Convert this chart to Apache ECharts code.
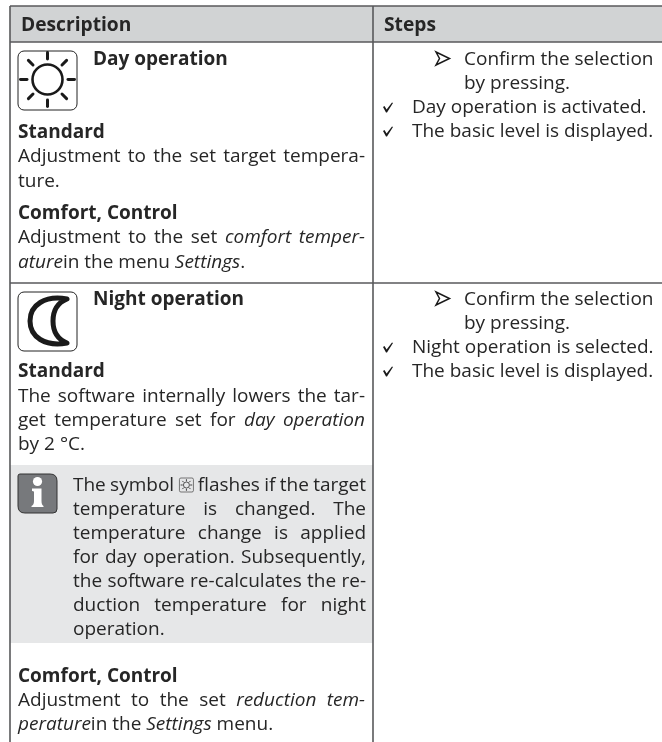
<!DOCTYPE html>
<html><head><meta charset="utf-8">
<style>html,body{margin:0;padding:0;background:#fff}#c{width:662px;height:742px}</style>
<script src="https://cdn.jsdelivr.net/npm/echarts@6/dist/echarts.min.js"></script>
</head><body><div id="c"></div>
<script>
// Table content ( _x_ marks italics, | marks a justified line, # the inline symbol )
var headers = ['Description', 'Steps'];
var dayTitle = 'Day operation';
var nightTitle = 'Night operation';
var subStandard = 'Standard';
var subComfort = 'Comfort, Control';
var dayStandard = ['|Adjustment to the set target tempera-', 'ture.'];
var dayComfort = ['|Adjustment to the set _comfort temper-_', '_ature_in the menu _Settings_.'];
var nightStandard = ['|The software internally lowers the tar-', '|get temperature set for _day operation_', 'by 2 °C.'];
var nightNote = ['|The symbol # flashes if the target', '|temperature is changed. The', '|temperature change is applied', '|for day operation. Subsequently,', '|the software re-calculates the re-', '|duction temperature for night', 'operation.'];
var nightComfort = ['|Adjustment to the set _reduction tem-_', '_perature_in the _Settings_ menu.'];
var confirmSteps = ['Confirm the selection', 'by pressing.'];
var dayChecks = ['Day operation is activated.', 'The basic level is displayed.'];
var nightChecks = ['Night operation is selected.', 'The basic level is displayed.'];

var FF = '"Open Sans"', SIZE = 19, INK = '#262626', LINE = '#58595b';
var chart = echarts.init(document.getElementById('c'));
var g = [];
var shapeId = 0;
function pathEl(d,style){
  var name='iconShape'+(shapeId++);
  echarts.graphic.registerShape(name,echarts.graphic.extendPath(d,{}));
  g.push({type:name,silent:true,style:style});
}
var mctx = document.createElement('canvas').getContext('2d');
function fontOf(st){return (st==='i'?'italic ':st==='b'?'bold ':'')+SIZE+'px '+FF;}
function w(t,st){mctx.font=fontOf(st);return mctx.measureText(t).width;}
function put(t,x,base,st,size){
  var s=size||SIZE;
  g.push({type:'text',silent:true,style:{text:t,x:x,y:base-0.30*s,fill:INK,verticalAlign:'middle',align:'left',
    font:(st==='i'?'italic ':st==='b'?'bold ':'')+s+'px '+FF}});
}
function rect(x,y,wd,h,fill){g.push({type:'rect',silent:true,shape:{x:x,y:y,width:wd,height:h},style:{fill:fill}});}
function hline(x1,x2,y,c,lw){g.push({type:'line',silent:true,shape:{x1:x1,y1:y,x2:x2,y2:y},style:{stroke:c,lineWidth:lw}});}
function vline(x,y1,y2,c,lw){g.push({type:'line',silent:true,shape:{x1:x,y1:y1,x2:x,y2:y2},style:{stroke:c,lineWidth:lw}});}

function segs(line){
  var out=[],parts=line.split('_');
  parts.forEach(function(p,i){if(p)out.push({t:p,st:i%2?'i':''});});
  return out;
}
function sunIcon(cx,cy,k,lw){
  g.push({type:'circle',silent:true,shape:{cx:cx,cy:cy,r:15*k},style:{fill:'none',stroke:'#1a1a1a',lineWidth:lw}});
  for(var a=0;a<8;a++){
    var an=a*Math.PI/4,c=Math.cos(an),s=Math.sin(an);
    g.push({type:'line',silent:true,shape:{x1:cx+c*20.5*k,y1:cy+s*20.5*k,x2:cx+c*27*k,y2:cy+s*27*k},
      style:{stroke:'#1a1a1a',lineWidth:lw*1.15,lineCap:'round'}});
  }
}
function box(x,y,wd,h,r,fill,stroke,lw){
  g.push({type:'rect',silent:true,shape:{x:x,y:y,width:wd,height:h,r:r},style:{fill:fill,stroke:stroke,lineWidth:lw}});
}
function drawLine(line,x,right,base){
  if(line[0]==='|'){
    var words=[];
    segs(line.slice(1)).forEach(function(sg){
      sg.t.trim().split(/\s+/).forEach(function(wd){words.push({t:wd,st:sg.st,w:wd==='#'?15:w(wd,sg.st)});});
    });
    var tot=words.reduce(function(a,b){return a+b.w;},0);
    var gap=(right-x-tot)/(words.length-1),cx=x;
    words.forEach(function(wd){
      if(wd.t==='#'){
        box(cx+1,base-13,14,14,1.5,'none','#444',0.7);
        sunIcon(cx+8,base-6,0.2,0.7);
      } else put(wd.t,cx,base,wd.st);
      cx+=wd.w+gap;
    });
  } else {
    var cx2=x;
    segs(line).forEach(function(sg){put(sg.t,cx2,base,sg.st);cx2+=w(sg.t,sg.st);});
  }
}
function block(lines,x,right,bases){lines.forEach(function(l,i){drawLine(l,x,right,bases[i]);});}

// table frame
rect(10,6,652,36,'#d1d3d4');
rect(10,465,363,178,'#e6e7e8');
hline(10,662,6,LINE,1.6);
hline(10,662,42,LINE,1.6);
hline(10,662,283,LINE,1.6);
vline(10,6,742,LINE,1.6);
vline(373,6,742,LINE,1.6);

// headers
put(headers[0],21,31,'b',19.2);
put(headers[1],384,31,'b',19.2);

// day row
box(18,51,59,59,6,'#fff','#222',1);
sunIcon(47.5,79.5,1,2.6);
put(dayTitle,93,65,'b');
put(subStandard,18,138,'b');
block(dayStandard,18,365,[162,187]);
put(subComfort,18,219,'b');
block(dayComfort,18,365,[243,268]);

// night row
box(18,292,59,59,6,'#fff','#222',1);
pathEl('M67 299 C45 295 30 305 30 321 C30 337 45 347 67 343 C57 339 53 331 53 321 C53 311 57 303 67 299 Z',
  {fill:'none',stroke:'#1a1a1a',lineWidth:5,lineJoin:'round'});
put(nightTitle,93,305,'b');
put(subStandard,18,377,'b');
block(nightStandard,18,365,[402,426,450]);
// note
pathEl('M20 474 L50 474 Q57 474 57 481 L57 509 Q57 513 53 513 L25 513 Q18 513 18 506 L18 476 Q18 474 20 474 Z',
  {fill:'#77797c',stroke:'#333',lineWidth:1});
g.push({type:'circle',silent:true,shape:{cx:37.5,cy:481.5,r:4.6},style:{fill:'#fff'}});
pathEl('M32 488.5 L41.5 488.5 L41.5 501 Q41.5 505 43.5 506 L43.5 507 L31.5 507 L31.5 506 Q34 505 34 501 L34 492 Q34 491 32 491 Z',{fill:'#fff'});
block(nightNote,73,366,[491,515,539,563,587,611,635]);
put(subComfort,18,682,'b');
block(nightComfort,18,365,[706,730]);

// steps
function arrow(x,base){
  pathEl('M'+x+' '+(base-13)+' L'+(x+13.5)+' '+(base-6.5)+' L'+x+' '+base+' L'+(x+3.5)+' '+(base-6.5)+' Z',
    {fill:'#fff',stroke:'#1a1a1a',lineWidth:1.5,lineJoin:'miter'});
}
function check(x,base){
  pathEl('M'+x+' '+(base-6)+' L'+(x+1.5)+' '+(base-7)+' L'+(x+3.6)+' '+(base-3.6)+' L'+(x+9)+' '+(base-10.5)+' L'+(x+10)+' '+(base-10)+' L'+(x+4)+' '+(base-0.5)+' L'+(x+3)+' '+(base-0.5)+' Z',
    {fill:'#1a1a1a'});
}
function steps(chk,bases){
  arrow(436,bases[0]);
  put(confirmSteps[0],464,bases[0]);
  put(confirmSteps[1],464,bases[1]);
  check(383,bases[2]); put(chk[0],412,bases[2]);
  check(383,bases[3]); put(chk[1],412,bases[3]);
}
steps(dayChecks,[65,89,113,137]);
steps(nightChecks,[305,329,353,377]);

chart.setOption({animation:false,graphic:{elements:g}});
</script></body></html>
